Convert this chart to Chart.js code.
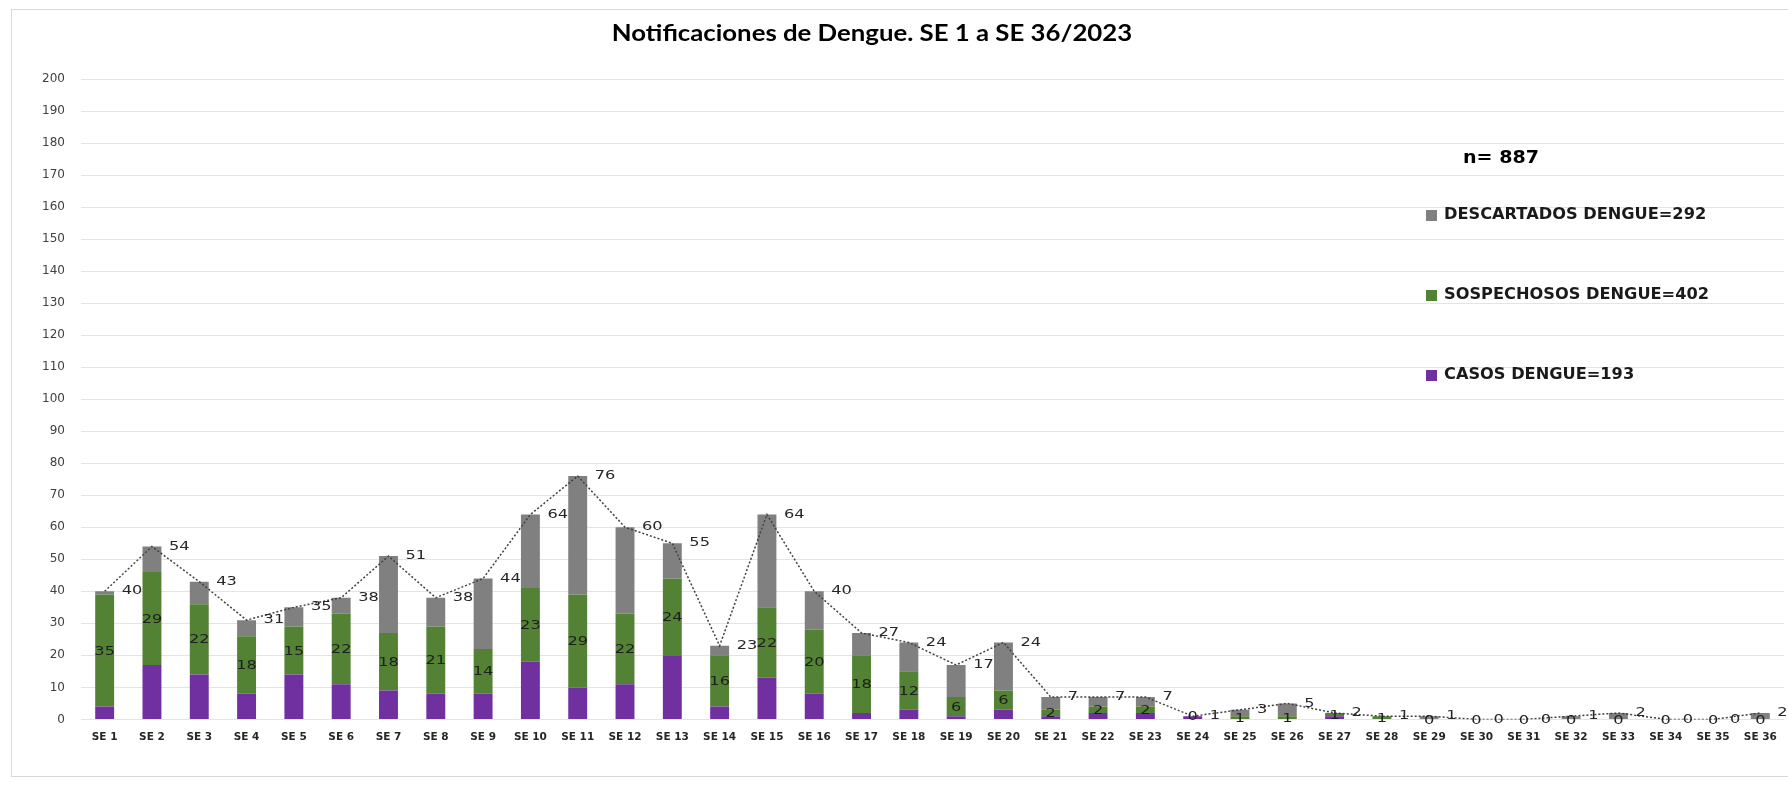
<!DOCTYPE html>
<html>
<head>
<meta charset="utf-8">
<script src="https://cdn.jsdelivr.net/npm/chart.js@4.4.1/dist/chart.umd.min.js"></script>
<style>
  html, body { margin: 0; padding: 0; background: #fff; }
  #wrap { width: 1788px; height: 786px; position: relative; }
</style>
</head>
<body>
<div id="wrap"><canvas id="dengueChart"></canvas></div>
<script>
const semanas = ['SE 1', 'SE 2', 'SE 3', 'SE 4', 'SE 5', 'SE 6', 'SE 7', 'SE 8', 'SE 9', 'SE 10',
  'SE 11', 'SE 12', 'SE 13', 'SE 14', 'SE 15', 'SE 16', 'SE 17', 'SE 18', 'SE 19', 'SE 20',
  'SE 21', 'SE 22', 'SE 23', 'SE 24', 'SE 25', 'SE 26', 'SE 27', 'SE 28', 'SE 29', 'SE 30',
  'SE 31', 'SE 32', 'SE 33', 'SE 34', 'SE 35', 'SE 36'];

const casos = [4, 17, 14, 8, 14, 11, 9, 8, 8, 18, 10, 11, 20, 4, 13, 8, 2, 3, 1, 3,
  1, 2, 2, 1, 0, 0, 1, 0, 0, 0, 0, 0, 0, 0, 0, 0];
const sospechosos = [35, 29, 22, 18, 15, 22, 18, 21, 14, 23, 29, 22, 24, 16, 22, 20, 18, 12, 6, 6,
  2, 2, 2, 0, 1, 1, 1, 1, 0, 0, 0, 0, 0, 0, 0, 0];
const descartados = [1, 8, 7, 5, 6, 5, 24, 9, 22, 23, 37, 27, 11, 3, 29, 12, 7, 9, 10, 15,
  4, 3, 3, 0, 2, 4, 0, 0, 1, 0, 0, 1, 2, 0, 0, 2];
const totales = [40, 54, 43, 31, 35, 38, 51, 38, 44, 64, 76, 60, 55, 23, 64, 40, 27, 24, 17, 24,
  7, 7, 7, 1, 3, 5, 2, 1, 1, 0, 0, 1, 2, 0, 0, 2];

const yTicks = [0, 10, 20, 30, 40, 50, 60, 70, 80, 90, 100, 110, 120, 130, 140, 150, 160, 170, 180, 190, 200];

const titulo = 'Notificaciones de Dengue. SE 1 a SE 36/2023';
const nTotal = 'n= 887';
const leyenda = [
  { label: 'DESCARTADOS DENGUE=292', color: '#808080' },
  { label: 'SOSPECHOSOS DENGUE=402', color: '#548235' },
  { label: 'CASOS DENGUE=193', color: '#7030A0' },
];

// text helper: the source picture has horizontally stretched text
function wideText(ctx, text, x, y, font, color, align, sx) {
  ctx.save();
  ctx.font = font;
  ctx.fillStyle = color;
  ctx.textAlign = align;
  ctx.textBaseline = 'middle';
  ctx.translate(x, y);
  ctx.scale(sx, 1);
  ctx.fillText(text, 0, 0);
  ctx.restore();
}

const decoPlugin = {
  id: 'deco',
  beforeDraw(chart) {
    const ctx = chart.ctx;
    ctx.save();
    ctx.fillStyle = '#fff';
    ctx.fillRect(0, 0, chart.width, chart.height);
    ctx.strokeStyle = '#d9d9d9';
    ctx.lineWidth = 1;
    ctx.strokeRect(11.5, 9.5, chart.width, chart.height - 19);
    ctx.restore();
  },
  afterDatasetsDraw(chart) {
    const ctx = chart.ctx;

    // values inside the green segments
    const greenMeta = chart.getDatasetMeta(2);
    greenMeta.data.forEach((bar, i) => {
      const p = bar.getProps(['x', 'y', 'base'], true);
      wideText(ctx, String(sospechosos[i]), p.x, (p.y + p.base) / 2 + 1,
        '12px "DejaVu Sans"', '#1e1e1e', 'center', 1.35);
    });

    // totals to the right of the dotted line
    const lineMeta = chart.getDatasetMeta(0);
    lineMeta.data.forEach((pt, i) => {
      wideText(ctx, String(totales[i]), pt.x + 17, pt.y,
        '12px "DejaVu Sans"', '#262626', 'left', 1.35);
    });

    // title
    wideText(ctx, titulo, 872, 34, 'bold 23px Lato', '#000', 'center', 1.12);

    // n and legend
    wideText(ctx, nTotal, 1463, 159, 'bold 17px "DejaVu Sans"', '#000', 'left', 1.12);
    leyenda.forEach((item, k) => {
      const y = 215 + k * 80;
      ctx.fillStyle = item.color;
      ctx.fillRect(1426, y - 5, 11, 11);
      wideText(ctx, item.label, 1444, y, 'bold 15px "DejaVu Sans"', '#1a1a1a', 'left', 1.08);
    });
  }
};

new Chart(document.getElementById('dengueChart'), {
  type: 'bar',
  data: {
    labels: semanas,
    datasets: [
      {
        type: 'line',
        label: 'Total',
        data: totales,
        stack: 'total',
        borderColor: '#404040',
        borderWidth: 1.5,
        borderDash: [2, 2],
        pointRadius: 0,
        fill: false,
        tension: 0,
        order: 0,
      },
      { label: 'CASOS DENGUE', data: casos, backgroundColor: '#7030A0', stack: 'a', order: 1 },
      { label: 'SOSPECHOSOS DENGUE', data: sospechosos, backgroundColor: '#548235', stack: 'a', order: 1 },
      { label: 'DESCARTADOS DENGUE', data: descartados, backgroundColor: '#808080', stack: 'a', order: 1 },
    ],
  },
  options: {
    responsive: true,
    maintainAspectRatio: false,
    animation: false,
    datasets: { bar: { barPercentage: 0.4, categoryPercentage: 1 } },
    layout: { padding: { left: 11, right: 4, top: 79, bottom: 38 } },
    plugins: {
      legend: { display: false },
      title: { display: false },
      tooltip: { enabled: false },
    },
    scales: {
      x: {
        stacked: true,
        grid: { display: false },
        border: { display: false },
        ticks: {
          autoSkip: false,
          maxRotation: 0,
          padding: 4,
          color: '#262626',
          font: { family: 'DejaVu Sans', size: 10.5, weight: 'bold' },
        },
      },
      y: {
        stacked: true,
        min: 0,
        max: 200,
        afterFit: (s) => { s.width = 70; },
        afterBuildTicks: (s) => { s.ticks = yTicks.map(v => ({ value: v })); },
        grid: { color: '#e4e4e4', drawTicks: false, lineWidth: 1 },
        border: { display: false },
        ticks: {
          padding: 16,
          color: '#404040',
          font: { family: 'DejaVu Sans', size: 12 },
        },
      },
    },
  },
  plugins: [decoPlugin],
});
</script>
</body>
</html>
